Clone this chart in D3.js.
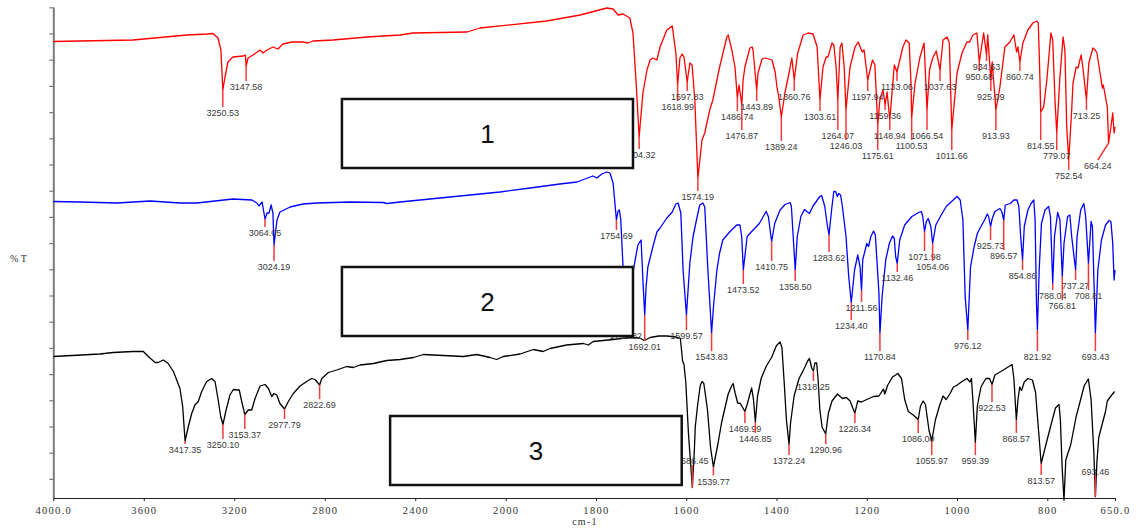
<!DOCTYPE html>
<html>
<head>
<meta charset="utf-8">
<script src="https://cdn.jsdelivr.net/npm/d3@7"></script>
<style>
  body { margin: 0; background: #fff; }
  svg { display: block; }
</style>
</head>
<body>
<svg id="chart" width="1144" height="528"></svg>
<script>
// ---- Axis ticks ----
const xTicks = [4000, 3600, 3200, 2800, 2400, 2000, 1800, 1600, 1400, 1200, 1000, 800, 650];
const xTickLabels = ["4000.0", "3600", "3200", "2800", "2400", "2000", "1800", "1600", "1400", "1200", "1000", "800", "650.0"];
const yTickCount = 19;

// ---- Spectrum 1 (red): [wavenumber cm-1, %T] ----
const trace1 = [
  [4000,91.3],[3648,91.6],[3409,92.6],[3320,92.8],[3294,92.9],[3272,92.0],[3259,89.6],
  [3241,84.2],[3228,87.2],[3206,88.2],[3161,88.4],[3151,88.6],
  [3139,88.0],[3117,88.6],[3086,89.6],[3073,89.0],[3055,89.6],[3029,90.2],[3007,89.8],[2985,90.8],
  [2945,91.2],[2896,91.2],[2874,91.0],[2852,91.4],[2763,91.6],[2613,92.2],[2467,92.6],[2410,93.0],
  [2171,93.2],[2114,94.0],[1909,95.4],[1835,96.6],[1776,98.0],[1762,97.8],[1751,96.6],[1740,96.8],
  [1725,96.0],[1718,93.0],[1711,83.0],
  [1696,81.0],[1687,85.6],[1680,87.6],[1674,88.0],[1665,87.6],[1658,90.2],[1643,93.6],[1631,94.4],[1623,89.0],
  [1614,88.0],[1609,88.8],[1605,88.2],
  [1592,87.0],[1587,86.6],[1581,79.6],
  [1565,71.6],[1559,73.0],[1548,77.6],[1541,79.6],[1526,86.2],[1510,92.2],[1507,92.6],[1499,89.6],[1492,86.2],
  [1483,82.6],
  [1474,83.6],[1470,86.2],[1459,90.0],[1454,90.2],[1452,89.6],
  [1441,85.0],[1432,87.8],[1425,88.0],[1410,87.6],[1403,85.2],[1399,82.2],[1395,80.2],
  [1381,81.2],[1374,84.2],[1366,88.0],
  [1353,89.0],[1341,92.6],[1330,93.0],[1319,92.8],[1310,90.2],
  [1297,86.2],[1290,88.2],[1286,88.2],[1277,91.0],[1273,90.6],[1268,86.2],
  [1259,90.2],[1255,91.0],[1250,86.2],
  [1237,86.2],[1226,90.2],[1219,91.2],[1210,89.2],[1206,89.6],
  [1189,87.0],[1187,87.6],[1182,86.6],
  [1171,79.6],[1164,81.6],
  [1155,81.2],
  [1143,82.2],[1139,86.6],
  [1120,90.2],[1113,91.6],[1106,91.0],[1102,83.0],
  [1093,83.0],[1082,88.2],[1073,91.0],
  [1061,85.6],[1054,88.0],[1046,89.4],
  [1031,91.6],[1022,92.2],[1017,91.0],
  [1000,85.0],[989,89.0],[978,91.2],[972,91.2],[965,92.6],[956,93.0],
  [941,93.0],
  [932,92.6],
  [922,87.2],
  [905,82.2],[894,90.2],[883,91.2],[874,92.6],[868,89.2],[865,90.2],
  [854,91.0],[843,93.6],[832,95.0],[823,95.4],[820,95.0],[817,86.2],
  [808,78.2],[801,83.6],[792,93.0],[788,91.6],[783,79.6],
  [772,84.2],[765,92.2],[761,89.6],[757,74.2],
  [746,77.6],[743,83.0],[736,86.2],[732,86.0],[725,88.6],[721,86.0],
  [708,87.0],[699,90.0],[694,89.6],[690,89.0],[678,82.0],[676,82.6],[667,78.2],
  [659,74.2],[655,77.0],[652,73.0],[650,74.2]
];
// [labelled wavenumber, %T at band minimum, %T where the leader ends, (optional) wavenumber of label]
const peaks1 = [
  [3250.53,81.6,78.2],[3147.58,86.4,83.4],[1704.32,72.2,69.8],[1618.99,82.6,79.4],[1597.83,83.2,81.4],
  [1574.19,64.0,61.4],[1486.74,80.0,77.4],[1476.87,78.6,73.6],[1443.89,81.6,79.4],[1389.24,76.2,71.4],
  [1360.76,83.6,81.4],[1303.61,79.6,77.4],[1264.07,79.6,73.6],[1246.03,77.6,71.6],[1197.94,83.6,81.4],
  [1175.61,74.6,69.6],[1159.36,78.6,77.6],[1148.94,75.6,73.6],[1133.06,85.2,83.4],[1100.53,76.0,71.6],
  [1066.54,77.6,73.6],[1037.63,85.6,83.4],[1011.66,73.6,69.6],[950.68,87.2,85.4],[934.63,88.6,87.4],
  [925.09,83.6,81.4],[913.93,77.6,73.6],[860.74,87.2,85.4],[814.55,77.2,71.6],[779.07,73.0,69.6],
  [752.54,67.6,65.6],[713.25,79.6,77.6],[664.24,71.0,67.6,688]
];

// ---- Spectrum 2 (blue) ----
const trace2 = [
  [4000,59.3],[3882,59.2],[3718,59.0],[3572,59.4],[3440,59.0],[3365,59.0],[3206,59.8],[3122,59.6],
  [3100,59.0],[3091,58.4],[3077,59.2],
  [3055,57.0],[3046,57.0],[3037,58.6],[3029,57.0],
  [3011,55.6],[2998,57.2],[2953,58.2],[2896,58.8],[2834,59.0],[2688,59.2],[2542,59.1],[2525,58.9],
  [2467,59.2],[2246,60.2],[2025,61.2],[1946,62.0],[1880,62.8],[1842,63.2],[1807,64.4],[1798,64.0],
  [1787,64.8],[1776,65.2],[1769,65.0],[1762,63.0],
  [1751,57.4],[1748,57.6],[1745,55.6],[1740,46.2],
  [1716,46.2],[1707,50.6],[1700,51.6],[1696,43.6],
  [1689,42.2],[1685,46.2],[1674,50.2],[1665,53.2],[1658,54.0],[1643,56.0],[1631,57.2],[1623,58.8],
  [1618,59.0],[1612,57.0],[1607,45.6],
  [1592,47.0],[1585,52.2],[1576,56.2],[1570,58.6],[1563,59.0],[1559,58.2],[1552,45.6],
  [1539,39.0],[1532,45.6],[1526,49.0],[1519,51.6],[1504,53.2],[1488,54.6],[1481,54.6],[1477,52.2],
  [1465,52.3],[1457,53.1],[1438,54.9],[1423,57.3],[1418,56.3],
  [1404,54.9],[1392,57.6],[1381,58.7],[1370,59.1],[1367,58.3],[1363,52.3],
  [1354,52.3],[1346,56.3],[1338,57.7],[1333,57.3],[1327,56.9],[1319,58.4],[1304,60.3],[1300,60.5],
  [1293,58.3],[1288,54.9],
  [1278,57.6],[1273,61.3],[1269,61.3],[1265,60.3],[1262,60.9],[1258,60.6],[1254,58.3],[1246,52.3],[1240,44.3],
  [1227,45.6],[1220,48.6],[1215,46.3],
  [1209,47.6],[1200,50.9],[1196,50.3],[1191,52.3],[1185,53.4],[1181,52.6],[1178,48.3],[1173,40.9],
  [1166,40.3],[1158,47.6],[1150,50.9],[1143,52.4],[1139,51.9],[1136,48.3],
  [1127,51.6],[1116,54.6],[1100,56.3],[1085,57.1],[1079,57.3],[1076,56.3],
  [1068,55.3],[1064,55.9],[1058,54.3],
  [1047,54.6],[1035,56.6],[1024,58.3],[1012,59.3],[1000,60.3],[993,59.6],[987,55.6],[982,40.3],
  [970,46.3],[962,50.3],[955,52.9],[947,54.3],[939,55.6],[933,56.8],[930,56.3],
  [922,55.9],[916,57.3],[905,57.9],[901,57.3],
  [893,58.6],[882,58.9],[874,59.6],[867,59.6],[863,58.3],[859,52.3],
  [851,54.3],[843,57.6],[836,58.9],[830,59.6],[827,55.6],[824,38.9],
  [818,45.6],[813,54.9],[805,57.6],[797,58.3],[793,56.3],
  [784,52.3],[777,57.1],[772,55.6],
  [763,50.9],[755,56.3],[750,56.6],[746,52.3],
  [734,52.3],[726,57.6],[719,58.9],[715,56.3],
  [703,55.3],[700,54.3],
  [688,45.6],[680,51.6],[671,54.6],[663,55.5],[659,55.3],[655,50.9],[652,43.6],[650,45.6]
];
const peaks2 = [
  [3064.05,55.8,54.2],[3024.19,50.6,47.4],[1754.69,55.6,53.6],[1733.82,35.6,33.6],[1692.01,36.6,31.4],
  [1599.57,36.6,33.6],[1543.83,33.0,29.4],[1473.52,45.6,42.8],[1410.75,51.3,47.4],[1358.50,45.6,43.4],
  [1283.62,52.6,49.2],[1234.40,39.1,35.6],[1211.56,41.5,39.2],[1170.84,32.9,29.4],[1132.46,46.9,45.2],
  [1071.98,53.3,49.4],[1054.06,50.9,47.4],[976.12,33.6,31.6],[925.73,54.3,51.6],[896.57,55.6,49.6],
  [854.86,47.6,45.6],[821.92,33.6,29.4],[788.04,42.9,41.6],[766.81,44.3,39.6],[737.27,45.6,43.6],
  [708.81,46.9,41.6],[693.43,33.0,29.4]
];

// ---- Spectrum 3 (black) ----
const trace3 = [
  [4000,28.3],[3794,28.8],[3735,29.1],[3648,29.3],[3602,29.3],[3580,28.3],[3550,27.1],[3536,27.1],
  [3514,27.6],[3492,26.9],[3469,25.3],[3440,21.9],[3428,18.3],[3422,14.3],
  [3403,14.3],[3388,16.9],[3374,18.6],[3359,19.3],[3344,21.3],[3322,23.3],[3300,23.9],[3285,23.3],
  [3271,19.6],[3260,16.3],
  [3236,17.6],[3219,20.6],[3204,21.7],[3189,21.6],[3178,21.6],[3167,19.3],
  [3138,17.6],[3123,17.6],[3108,19.9],[3086,22.4],[3064,22.7],[3049,21.9],[3034,20.3],[3024,20.9],
  [3012,20.6],[2998,18.9],
  [2961,19.3],[2939,20.9],[2909,22.4],[2880,23.3],[2858,23.9],[2843,23.7],
  [2813,23.9],[2784,25.1],[2747,25.6],[2703,26.3],[2674,26.1],[2644,26.6],[2585,26.9],[2526,27.5],
  [2467,27.7],[2408,28.1],[2364,28.7],[2320,28.6],[2187,28.3],[2128,28.7],[2069,28.1],[2040,27.7],
  [2011,28.3],[1968,28.8],[1939,29.7],[1917,29.3],[1902,29.9],[1865,30.6],[1828,30.9],[1817,30.6],
  [1806,31.3],[1762,31.7],[1725,32.1],[1703,32.0],[1693,31.5],[1680,32.1],[1661,32.4],[1643,32.4],
  [1622,32.2],[1613,31.9],[1608,27.4],[1605,26.7],[1601,23.2],[1595,12.8],
  [1582,9.6],[1580,14.2],[1575,18.4],[1569,22.5],[1565,23.3],[1561,22.9],[1553,17.7],[1546,10.0],
  [1530,10.7],[1522,14.9],[1515,17.7],[1507,20.8],[1499,22.5],[1496,22.9],[1492,21.1],[1486,19.0],
  [1480,18.9],[1477,18.4],
  [1465,18.7],[1460,20.4],[1455,22.0],[1451,19.7],
  [1442,20.4],[1434,23.9],[1423,26.3],[1411,28.1],[1400,30.5],[1392,31.2],[1388,30.1],[1383,23.2],[1378,15.6],
  [1369,14.9],[1361,20.4],[1350,23.9],[1338,26.0],[1331,27.4],[1327,27.9],[1322,26.0],
  [1315,27.0],[1311,27.0],[1308,23.9],[1304,17.7],[1299,14.2],
  [1285,17.0],[1277,19.4],[1265,20.8],[1254,19.9],[1245,20.1],[1237,19.4],[1231,18.0],
  [1220,19.4],[1212,19.2],[1200,19.7],[1185,20.3],[1173,20.4],[1168,21.1],[1163,21.8],[1160,20.8],
  [1154,22.5],[1143,24.2],[1131,24.9],[1123,23.9],[1116,19.7],[1108,17.3],[1097,16.6],
  [1081,18.4],[1075,19.4],[1070,18.7],[1062,13.5],
  [1048,15.6],[1039,18.4],[1031,20.4],[1024,19.7],[1016,20.8],[1008,22.2],[1001,22.5],[989,23.3],
  [978,23.9],[971,23.2],[968,23.9],[965,19.7],
  [955,18.4],[947,22.2],[936,23.9],[928,23.9],
  [916,24.6],[901,25.4],[878,26.7],[874,23.9],
  [865,19.7],[861,22.2],[857,21.5],[851,23.2],[843,23.9],[833,23.6],[826,21.1],[820,14.2],
  [805,10.0],[793,14.2],[782,18.0],[774,18.7],[771,15.6],[767,5.9],[763,-0.4],[759,7.6],[748,10.7],
  [736,16.3],[725,20.1],[718,22.5],[709,23.8],[703,19.7],[697,9.3],
  [690,7.3],[686,12.1],[678,14.9],[671,17.3],[667,19.4],[659,20.4],[651,21.3]
];
const peaks3 = [
  [3417.35,11.4,10.8],[3250.10,14.7,11.8],[3153.37,16.7,13.8],[2977.79,17.8,15.8],[2822.69,22.6,19.8],
  [1586.45,2.1,6.6],[1539.77,6.2,4.5],[1469.99,17.3,15.0],[1446.85,15.2,13.0],[1372.24,10.7,8.6],
  [1318.25,25.4,23.4],[1290.96,12.8,10.8],[1226.34,17.0,15.0],[1086.00,15.7,13.0],[1055.97,11.4,8.6],
  [959.39,11.1,8.6],[922.53,22.7,19.2],[868.57,15.6,13.0],[813.57,6.9,4.6],[693.46,0.3,4.5]
];

// ---- Sample boxes: [name, wavenumber left, wavenumber right, %T top, %T bottom] ----
const sampleBoxes = [
  ["1", 2724, 1718, 79.8, 66.0],
  ["2", 2724, 1718, 46.2, 32.4],
  ["3", 2511, 1610, 16.4, 2.6]
];

// ---- Scales: wavenumber axis is expanded below 2000 cm-1 ----
const x = d3.scaleLinear().domain([4000, 2000, 650]).range([53.3, 505.7, 1115]);
const y = d3.scaleLinear().domain([0, 98.2]).range([498, 7]);

const svg = d3.select("#chart");

// y axis (unlabelled ticks)
const yTickValues = d3.range(yTickCount).map(i => 3.82 + 5.24 * i);
const yAxis = svg.append("g")
  .attr("transform", `translate(${x(4000)},0)`)
  .call(d3.axisLeft(y).tickValues(yTickValues).tickSize(4).tickSizeOuter(0).tickFormat(""));
yAxis.select(".domain").attr("stroke", "#7a7a7a").attr("stroke-width", 2);
yAxis.selectAll(".tick line").attr("stroke", "#7a7a7a").attr("stroke-width", 1.2);

// x axis
const xAxis = svg.append("g")
  .attr("transform", `translate(0,${y(0)})`)
  .call(d3.axisBottom(x).tickValues(xTicks).tickSize(3).tickSizeOuter(0)
    .tickFormat((d, i) => xTickLabels[i]));
xAxis.select(".domain").attr("stroke", "#222").attr("stroke-width", 1.2);
xAxis.selectAll(".tick line").attr("stroke", "#222");
xAxis.selectAll(".tick text")
  .attr("y", 9)
  .attr("fill", "#333")
  .style("font-family", "'Liberation Serif', 'DejaVu Serif', serif")
  .style("font-size", "10.5px")
  .style("letter-spacing", "1.3px");

svg.append("text")
  .attr("x", 585).attr("y", 525)
  .attr("text-anchor", "middle")
  .attr("fill", "#333")
  .style("font-family", "'Liberation Serif', serif")
  .style("font-size", "10px")
  .style("letter-spacing", "1.3px")
  .text("cm-1");

svg.append("text")
  .attr("x", 10).attr("y", 262)
  .attr("fill", "#333")
  .style("font-family", "'Liberation Serif', serif")
  .style("font-size", "10px")
  .text("% T");

// ---- Spectra ----
const spectra = [
  { trace: trace1, peaks: peaks1, color: "#ff0000" },
  { trace: trace2, peaks: peaks2, color: "#0000ff" },
  { trace: trace3, peaks: peaks3, color: "#000000" }
];

const line = d3.line().x(d => x(d[0])).y(d => y(d[1]));

const traceLayer = svg.append("g");
const markLayer = svg.append("g");

spectra.forEach(s => {
  const pts = s.trace.concat(s.peaks.map(p => [p[0], p[1]]))
    .sort((a, b) => b[0] - a[0]);
  traceLayer.append("path")
    .datum(pts)
    .attr("fill", "none")
    .attr("stroke", s.color)
    .attr("stroke-width", 1.3)
    .attr("stroke-linejoin", "round")
    .attr("d", line);
});

spectra.forEach(s => {
  s.peaks.forEach(p => {
    const [wn, tMin, tEnd, labelWn] = p;
    const lx = labelWn !== undefined ? labelWn : wn;
    markLayer.append("line")
      .attr("x1", x(wn)).attr("y1", y(tMin))
      .attr("x2", x(lx)).attr("y2", y(tEnd))
      .attr("stroke", "#f23a3a")
      .attr("stroke-width", 1.5);
    const above = tEnd > tMin;
    markLayer.append("text")
      .attr("x", x(lx))
      .attr("y", above ? y(tEnd) - 1 : y(tEnd) + 9)
      .attr("text-anchor", "middle")
      .attr("fill", "#3a3a3a")
      .style("font-family", "'Liberation Sans', Arial, sans-serif")
      .style("font-size", "9px")
      .text(wn.toFixed(2));
  });
});

// ---- Sample boxes drawn over the traces ----
const boxLayer = svg.append("g");
sampleBoxes.forEach(b => {
  const [name, w0, w1, t0, t1] = b;
  boxLayer.append("rect")
    .attr("x", x(w0)).attr("y", y(t0))
    .attr("width", x(w1) - x(w0)).attr("height", y(t1) - y(t0))
    .attr("fill", "#fff")
    .attr("stroke", "#111")
    .attr("stroke-width", 2.5);
  boxLayer.append("text")
    .attr("x", (x(w0) + x(w1)) / 2)
    .attr("y", (y(t0) + y(t1)) / 2 + 9)
    .attr("text-anchor", "middle")
    .attr("fill", "#111")
    .style("font-family", "'Liberation Sans', Arial, sans-serif")
    .style("font-size", "26px")
    .text(name);
});
</script>
</body>
</html>
